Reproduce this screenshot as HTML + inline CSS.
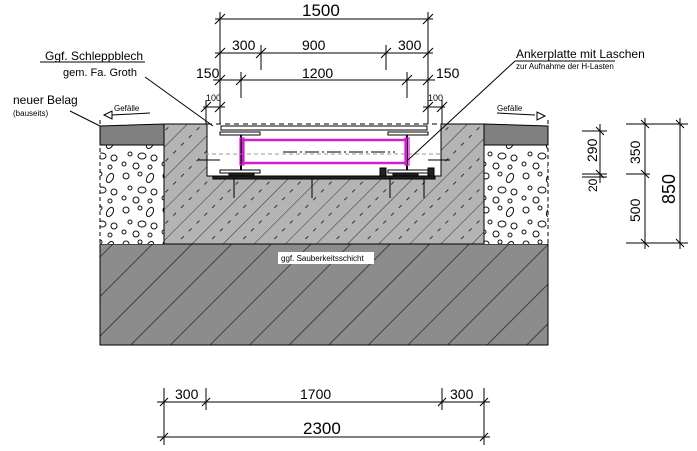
<!DOCTYPE html>
<html><head><meta charset="utf-8"><style>
html,body{margin:0;padding:0;background:#fff;}
svg{display:block;font-family:"Liberation Sans",sans-serif;}
</style></head><body>
<svg width="697" height="451" viewBox="0 0 697 451" xmlns="http://www.w3.org/2000/svg">
<defs>
<pattern id="h1" patternUnits="userSpaceOnUse" width="28" height="28" patternTransform="rotate(45)">
<rect width="28" height="28" fill="#8c8c8c"/><line x1="0" y1="0" x2="0" y2="28" stroke="#222" stroke-width="1.4"/>
</pattern>
<pattern id="h2" patternUnits="userSpaceOnUse" width="22" height="22" patternTransform="rotate(45)">
<rect width="22" height="22" fill="#b4b4b4"/><line x1="0" y1="0" x2="0" y2="22" stroke="#333" stroke-width="1"/>
<line x1="11" y1="4" x2="11" y2="8" stroke="#333" stroke-width="1"/><line x1="11" y1="15" x2="11" y2="19" stroke="#333" stroke-width="1"/>
</pattern>
<pattern id="gr" patternUnits="userSpaceOnUse" width="40" height="34">
<rect width="40" height="34" fill="#fff"/>
<g fill="none" stroke="#111" stroke-width="1">
<circle cx="6" cy="6" r="3"/><circle cx="20" cy="4" r="2"/><ellipse cx="30" cy="8" rx="3" ry="5" transform="rotate(30 30 8)"/>
<circle cx="10" cy="18" r="2"/><ellipse cx="22" cy="20" rx="4" ry="3"/><circle cx="34" cy="22" r="3"/>
<circle cx="4" cy="28" r="2"/><circle cx="16" cy="30" r="3"/><circle cx="30" cy="31" r="2"/>
</g></pattern>
</defs>
<g stroke="#000" stroke-width="1">
<!-- bottom slab -->
<rect x="100" y="244" width="448" height="101" fill="url(#h1)"/>
<!-- gravel -->
<rect x="100" y="145" width="64" height="99" fill="url(#gr)" stroke="none"/>
<rect x="484" y="145" width="64" height="99" fill="url(#gr)" stroke="none"/>
<line x1="100" y1="120" x2="100" y2="244" stroke-dasharray="4,3"/>
<line x1="548" y1="120" x2="548" y2="244" stroke-dasharray="4,3"/>
<!-- belag -->
<path d="M100 126 L164 124 L164 145 L100 145Z" fill="#808080"/>
<path d="M484 124 L548 126 L548 145 L484 145Z" fill="#808080"/>
<!-- foundation -->
<path d="M164 124 H207 V176 H441 V124 H484 V244 H164Z" fill="url(#h2)"/>
<line x1="164" y1="145" x2="164" y2="244"/><line x1="484" y1="145" x2="484" y2="244"/>
<line x1="207" y1="124" x2="441" y2="124" stroke-dasharray="5,4"/>
<!-- pit contents -->
<rect x="221" y="126" width="206" height="4" fill="#fff"/>
<rect x="220" y="132" width="40" height="3" fill="#fff"/><rect x="388" y="132" width="40" height="3" fill="#fff"/>
<rect x="220" y="170" width="40" height="3" fill="#fff"/><rect x="388" y="170" width="40" height="3" fill="#fff"/>
<line x1="241" y1="135" x2="241" y2="170" stroke-width="2"/><line x1="407" y1="135" x2="407" y2="170" stroke-width="2"/>
<rect x="213" y="176" width="222" height="3" fill="#222"/>
<rect x="229" y="173" width="25" height="3" fill="#222"/><rect x="393" y="173" width="25" height="3" fill="#222"/>
<rect x="380" y="168" width="6" height="8" fill="#222"/><rect x="428" y="168" width="6" height="8" fill="#222"/>
<line x1="205" y1="154" x2="440" y2="154" stroke="#999" stroke-dasharray="4,3"/>
<line x1="283" y1="152" x2="395" y2="152" stroke-dasharray="14,3,2,3"/>
<line x1="198" y1="160" x2="220" y2="160"/><line x1="428" y1="160" x2="450" y2="160"/>
<line x1="234" y1="178" x2="234" y2="198"/><line x1="312" y1="178" x2="312" y2="198"/><line x1="390" y1="178" x2="390" y2="198"/><line x1="424" y1="178" x2="424" y2="198"/>
</g>
<rect x="243" y="140" width="163" height="23" fill="none" stroke="#d21fd2" stroke-width="2.5"/>
<rect x="240" y="138" width="4" height="27" fill="none" stroke="#d21fd2" stroke-width="1.2"/>
<rect x="405" y="138" width="4" height="27" fill="none" stroke="#d21fd2" stroke-width="1.2"/>
<rect x="278" y="252" width="96" height="12" fill="#fff"/>
<text x="281" y="261" font-size="8">ggf. Sauberkeitsschicht</text>
<!-- dims -->
<g stroke="#000" stroke-width="1" fill="none">
<line x1="220" y1="12" x2="220" y2="124"/><line x1="428" y1="12" x2="428" y2="124"/>
<line x1="215" y1="19" x2="433" y2="19"/><line x1="215" y1="53" x2="433" y2="53"/><line x1="213" y1="80" x2="435" y2="80"/>
<line x1="261" y1="45" x2="261" y2="70"/><line x1="386" y1="45" x2="386" y2="70"/>
<line x1="241" y1="72" x2="241" y2="98"/><line x1="407" y1="72" x2="407" y2="98"/>
<line x1="203" y1="107" x2="225" y2="107"/><line x1="423" y1="107" x2="445" y2="107"/>
<line x1="206" y1="100" x2="206" y2="124"/><line x1="442" y1="100" x2="442" y2="124"/>
<path d="M215 24l10-10M423 24l10-10M215 58l10-10M256 58l10-10M381 58l10-10M423 58l10-10M215 85l10-10M236 85l10-10M402 85l10-10M423 85l10-10M201 112l10-10M215 112l10-10M437 112l10-10M423 112l10-10"/>
<!-- bottom dims -->
<line x1="164" y1="388" x2="164" y2="445"/><line x1="484" y1="388" x2="484" y2="445"/>
<line x1="206" y1="388" x2="206" y2="410"/><line x1="442" y1="388" x2="442" y2="410"/>
<line x1="157" y1="402" x2="490" y2="402"/><line x1="157" y1="437" x2="490" y2="437"/>
<path d="M160 406l8-8M202 406l8-8M438 406l8-8M480 406l8-8M160 441l8-8M480 441l8-8"/>
<!-- right dims -->
<line x1="582" y1="131" x2="607" y2="131"/><line x1="582" y1="174" x2="607" y2="174"/><line x1="582" y1="177" x2="607" y2="177"/>
<line x1="600" y1="124" x2="600" y2="183"/>
<line x1="626" y1="124" x2="688" y2="124"/><line x1="626" y1="174" x2="650" y2="174"/><line x1="626" y1="243" x2="688" y2="243"/>
<line x1="645" y1="118" x2="645" y2="249"/><line x1="680" y1="118" x2="680" y2="249"/>
<path d="M596 127l8 8M596 170l8 8M641 120l8 8M641 170l8 8M641 239l8 8M676 120l8 8M676 239l8 8"/>
<!-- leaders -->
<line x1="145" y1="77" x2="213" y2="126"/><line x1="40" y1="62" x2="145" y2="62"/>
<line x1="70" y1="111" x2="100" y2="126"/>
<line x1="515" y1="61" x2="615" y2="61"/><line x1="515" y1="61" x2="408" y2="160"/>
<line x1="112" y1="115" x2="150" y2="113"/><path d="M104 115l8-4v8z"/>
<line x1="497" y1="113" x2="535" y2="115"/><path d="M545 116l-8-4v8z"/>
</g>
<g font-size="14" fill="#000">
<text x="302" y="16" font-size="17">1500</text>
<text x="232" y="50">300</text><text x="302" y="50">900</text><text x="398" y="50">300</text>
<text x="196" y="78">150</text><text x="302" y="78">1200</text><text x="436" y="78">150</text>
<text x="206" y="101" font-size="9">100</text><text x="428" y="101" font-size="9">100</text>
<text x="175" y="399">300</text><text x="300" y="399">1700</text><text x="450" y="399">300</text>
<text x="303" y="434" font-size="17">2300</text>
<text x="45" y="60" font-size="12">Ggf. Schleppblech</text>
<text x="63" y="76" font-size="11">gem. Fa. Groth</text>
<text x="13" y="104" font-size="12">neuer Belag</text>
<text x="13" y="116" font-size="8">(bauseits)</text>
<text x="114" y="111" font-size="8">Gefälle</text>
<text x="497" y="111" font-size="8">Gefälle</text>
<text x="516" y="58" font-size="12">Ankerplatte mit Laschen</text>
<text x="516" y="69" font-size="8">zur Aufnahme der H-Lasten</text>
<text transform="translate(597,162) rotate(-90)">290</text>
<text transform="translate(597,192) rotate(-90)" font-size="12">20</text>
<text transform="translate(640,164) rotate(-90)">350</text>
<text transform="translate(640,222) rotate(-90)">500</text>
<text transform="translate(675,204) rotate(-90)" font-size="18">850</text>
</g>
</svg>
</body></html>
